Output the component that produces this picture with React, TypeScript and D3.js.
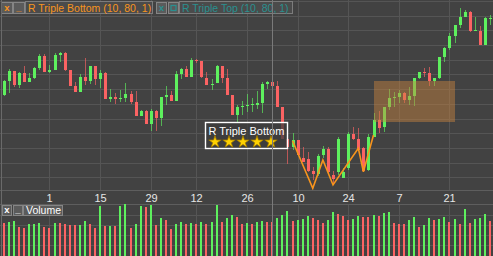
import React from "react";
import * as d3 from "d3";

const W = 493;
const H = 256;

const startDay = "2010-02-16";
const endDay = "2010-07-02";
const holidays = ["2010-04-02"];

const opens = [15.60,16.55,17.23,16.28,17.10,16.48,16.75,17.41,18.25,17.16,17.32,18.34,18.46,17.30,16.23,15.80,16.82,16.55,17.57,16.71,17.12,15.35,15.46,15.38,15.41,15.69,15.12,14.19,14.53,13.63,14.53,14.05,15.46,15.60,15.21,17.03,17.37,16.84,17.98,17.89,16.77,16.30,16.41,17.57,16.75,15.60,14.26,14.78,14.85,14.96,14.92,15.07,16.35,16.48,16.21,14.78,12.60,12.04,12.54,11.31,11.24,10.43,10.22,11.47,11.90,10.16,10.31,10.00,10.61,12.95,12.60,12.01,10.50,12.76,13.90,13.37,14.76,15.41,15.48,15.73,15.26,15.51,16.73,17.18,17.07,16.50,16.73,18.16,18.78,19.61,20.36,20.92,21.27,19.97,19.97,19.00,20.81];
const highs = [16.62,17.37,17.25,17.16,17.59,17.12,17.50,18.41,18.37,17.62,18.46,18.52,18.52,17.32,16.48,17.03,18.11,17.59,17.59,17.30,17.14,16.01,15.71,15.94,16.41,15.89,15.87,14.55,14.55,14.65,14.55,15.48,16.21,15.87,17.23,17.41,17.59,18.09,18.05,17.91,17.16,16.69,17.61,17.59,17.35,15.62,14.92,15.17,15.67,15.37,15.87,16.50,16.55,16.96,16.55,14.80,12.81,12.99,12.56,12.06,11.72,10.72,11.58,12.13,12.06,10.43,12.74,10.63,13.08,13.42,13.33,12.03,12.95,14.35,14.51,14.78,15.99,15.82,15.94,15.80,16.12,16.75,17.18,17.41,17.52,16.75,18.18,18.88,19.82,20.38,21.50,21.38,21.29,20.92,20.29,20.92,21.04];
const lows = [15.55,15.76,16.16,16.09,16.45,16.46,16.72,17.30,17.14,17.07,17.30,17.86,17.20,16.22,15.78,15.78,16.26,16.35,16.26,16.09,15.33,15.14,14.97,15.14,15.14,14.99,14.17,14.17,13.61,13.17,13.17,13.51,14.94,15.19,15.19,16.71,16.82,16.82,17.75,16.75,16.28,15.96,16.39,16.41,15.58,14.24,13.78,14.24,14.46,14.46,14.63,14.39,16.01,16.07,14.76,12.58,10.90,11.86,11.50,11.02,10.37,9.82,10.09,11.31,10.22,9.54,10.16,9.95,10.50,12.56,11.84,10.36,10.43,12.74,13.01,13.08,14.58,14.75,15.05,15.03,14.92,14.85,16.68,16.80,16.21,16.21,16.71,17.86,18.66,19.12,20.14,20.90,19.90,19.95,18.98,18.98,20.36];
const closes = [16.55,17.23,16.28,17.07,16.48,16.75,17.41,18.25,17.16,17.32,18.34,18.48,17.30,16.23,15.80,16.82,16.55,17.57,16.71,17.12,15.35,15.46,15.35,15.42,15.69,15.12,14.19,14.53,13.63,14.53,14.05,15.46,15.60,15.21,17.03,17.37,16.84,17.98,17.89,16.77,16.30,16.37,17.59,16.77,15.60,14.26,14.78,14.85,14.92,15.01,15.07,16.35,16.48,16.21,14.78,12.60,12.03,12.54,11.52,11.04,10.39,10.22,11.45,11.90,10.36,9.88,12.58,10.38,12.95,12.58,11.86,10.45,12.76,13.90,13.37,14.76,15.39,15.48,15.73,15.26,15.51,16.73,17.16,17.11,16.50,16.73,18.16,18.78,19.61,20.36,20.92,21.27,19.97,20.02,19.00,20.81,20.85];

const volumes = [666,686,706,586,560,640,640,660,586,566,660,660,640,620,614,626,700,646,566,1006,606,606,606,1006,1040,566,646,1006,986,1020,626,766,720,546,646,680,646,660,646,680,646,680,1020,680,760,826,786,640,654,640,674,694,674,680,760,820,900,700,720,740,800,760,720,654,720,880,840,800,720,740,800,780,780,820,806,860,880,660,640,640,720,780,580,620,760,720,740,780,680,740,640,940,660,740,760,840,700];
const volumeUp = [0,1,1,0,0,1,1,1,0,0,1,0,0,0,0,1,1,0,0,1,0,1,0,1,1,0,1,1,0,1,0,1,0,0,1,1,0,1,0,1,0,1,1,0,1,1,0,0,1,0,1,1,0,0,1,1,1,0,1,1,1,0,0,0,1,1,0,0,0,1,1,0,0,1,0,1,1,0,0,0,1,1,0,1,1,0,1,1,0,1,0,1,0,1,1,1,0];

const tickDates = ["2010-03-01","2010-03-15","2010-03-29","2010-04-12","2010-04-26","2010-05-10","2010-05-24","2010-06-07","2010-06-21"];
const cursorDate = "2010-05-03";
const priceGrid = [10,11,12,13,14,15,16,17,18,19,20,21,22];
const volumeGrid = [220,420,620,820];

const patternDates = ["2010-05-07","2010-05-13","2010-05-17","2010-05-19","2010-05-26","2010-05-27","2010-05-31"];
const patternPrices = [12.49, 9.25, 11.18, 9.48, 11.97, 10.38, 12.88];
const targetDates = ["2010-05-31", "2010-06-22"];
const targetPrices = [13.78, 16.55];
const labelDate = "2010-05-06";
const labelTopPrice = 13.78;
const patternName = "R Triple Bottom";
const rating = 5;
const headerTitles = ["R Triple Bottom (10, 80, 1)", "R Triple Top (10, 80, 1)"];
const volumeTitle = "Volume";

const BG = "#424242";
const GRID = "#555555";
const UP = "#5ef05e";
const DOWN = "#fb6363";
const ORANGE = "#f7941d";
const TEAL = "#2a9090";
const FONT = "'Liberation Sans', Arial, sans-serif";

const fmt = d3.timeFormat("%Y-%m-%d");
const parse = d3.timeParse("%Y-%m-%d");
const dates = d3.timeDay
  .range(parse(startDay)!, parse(endDay)!)
  .filter((d) => d.getDay() !== 0 && d.getDay() !== 6 && !holidays.includes(fmt(d)))
  .map(fmt);

export default function App() {
  const x = d3.scaleBand<string>().domain(dates).range([1.4, 492.5]).padding(0);
  const cx = (d: string) => Math.round((x(d) ?? 0) + x.bandwidth() / 2);
  const y = d3.scaleLinear().domain([10, 21]).range([177.3, 15.6]);
  const yv = d3.scaleLinear().domain([0, 1040]).range([256, 204]);
  const dayLabel = d3.timeFormat("%-d");

  const line = d3
    .line<number>()
    .x((i) => (x(patternDates[i]) ?? 0) + x.bandwidth() / 2)
    .y((i) => y(patternPrices[i]));

  const tbx0 = (x(targetDates[0]) ?? 0) + x.bandwidth() / 2;
  const tbx1 = (x(targetDates[1]) ?? 0) + x.bandwidth() / 2;
  const tby0 = y(targetPrices[1]);
  const tby1 = y(targetPrices[0]);

  const lbRight = (x(labelDate) ?? 0) + x.bandwidth() / 2;
  const lbTop = Math.round(y(labelTopPrice)) + 0.5;
  const lbW = 82;
  const lbH = 26;
  const lbLeft = Math.round(lbRight - lbW) + 0.5;

  const star = d3.symbol().type(d3.symbolStar).size(48)();

  const button = (bx: number, by: number, w: number, h: number, glyph: string, color: string, key: string) => (
    <g key={key}>
      <rect x={bx + 0.5} y={by + 0.5} width={w} height={h} fill="#5b5b5b" stroke="#858585" />
      {glyph === "sq" ? (
        <rect x={bx + w / 2 - 2} y={by + h / 2 - 2} width={5} height={5} fill="none" stroke={color} strokeWidth={1.2} />
      ) : (
        <text x={bx + w / 2 + 0.5} y={by + h - 2.5} fontSize={9.5} fontWeight="bold" fill={color} textAnchor="middle" fontFamily={FONT}>
          {glyph}
        </text>
      )}
    </g>
  );

  return (
    <svg width={W} height={H} style={{ position: "absolute", left: 0, top: 0, display: "block" }} fontFamily={FONT}>
      <rect x={0} y={0} width={W} height={H} fill={BG} />
      {priceGrid.map((p) => (
        <line key={"hg" + p} x1={0} x2={W} y1={Math.round(y(p)) + 0.5} y2={Math.round(y(p)) + 0.5} stroke={GRID} />
      ))}
      {tickDates.map((d) => (
        <line key={"vg" + d} x1={cx(d) + 0.5} x2={cx(d) + 0.5} y1={0} y2={190} stroke={GRID} />
      ))}
      {dates.map((d, i) => {
        const o = opens[i], c = closes[i];
        const up = c >= o;
        const col = up ? UP : DOWN;
        const xc = cx(d);
        const top = Math.round(Math.min(y(o), y(c)));
        const h = Math.max(1, Math.round(Math.abs(y(o) - y(c))));
        return (
          <g key={"c" + d}>
            <line x1={xc + 0.5} x2={xc + 0.5} y1={Math.round(y(highs[i]))} y2={Math.round(y(lows[i]))} stroke={col} strokeOpacity={0.65} />
            <rect x={xc - 1} y={top} width={3} height={h} fill={col} />
          </g>
        );
      })}
      <rect x={Math.round(tbx0)} y={Math.round(tby0)} width={Math.round(tbx1 - tbx0)} height={Math.round(tby1 - tby0)} fill="rgb(205,133,63)" fillOpacity={0.45} />
      <path d={line(patternDates.map((_, i) => i)) ?? ""} fill="none" stroke={ORANGE} strokeWidth={1.6} strokeLinejoin="miter" />
      <g>
        <rect x={lbLeft} y={lbTop} width={lbW} height={lbH} fill="#3c3c3c" fillOpacity={0.75} stroke="#ffffff" strokeWidth={1.4} />
        <text x={lbLeft + 3} y={lbTop + 12} fontSize={11} fill="#ffffff">
          {patternName}
        </text>
        {d3.range(rating).map((s) => (
          <path key={"st" + s} d={star ?? ""} transform={`translate(${lbLeft + 9.5 + s * 14},${lbTop + 19.5})`} fill="#ffd200" stroke="#9a7400" strokeWidth={0.8} />
        ))}
      </g>
      {button(1, 2, 11, 11, "x", ORANGE, "b1")}
      {button(13, 2, 11, 11, "_", ORANGE, "b2")}
      <rect x={25.5} y={1.5} width={127} height={12} fill="#4b4b4b" stroke="#7c7c7c" />
      <text x={28} y={11.5} fontSize={10.5} fill={ORANGE}>{headerTitles[0]}</text>
      {button(156, 2, 10, 11, "x", TEAL, "b3")}
      {button(168, 2, 10, 11, "sq", TEAL, "b4")}
      <rect x={179.5} y={1.5} width={113} height={12} fill="#4b4b4b" stroke="#7c7c7c" />
      <text x={182} y={11.5} fontSize={10.5} fill={TEAL}>{headerTitles[1]}</text>
      <line x1={0} x2={W} y1={190.5} y2={190.5} stroke="#5e5e5e" />
      {tickDates.map((d) => (
        <text key={"tl" + d} x={cx(d) + 0.5} y={202} fontSize={11} fill="#e6e6e6" textAnchor="middle">
          {dayLabel(parse(d)!)}
        </text>
      ))}
      <line x1={0} x2={W} y1={204.5} y2={204.5} stroke="#5e5e5e" />
      {volumeGrid.map((v) => (
        <line key={"vhg" + v} x1={0} x2={W} y1={Math.round(yv(v)) + 0.5} y2={Math.round(yv(v)) + 0.5} stroke={GRID} />
      ))}
      {tickDates.map((d) => (
        <line key={"vvg" + d} x1={cx(d) + 0.5} x2={cx(d) + 0.5} y1={205} y2={H} stroke={GRID} />
      ))}
      {dates.map((d, i) => {
        const top = Math.round(yv(volumes[i]));
        return <rect key={"v" + d} x={cx(d) - 1} y={top} width={2} height={H - top} fill={volumeUp[i] ? UP : DOWN} />;
      })}
      {button(2, 205, 9, 10, "x", "#ffffff", "vb1")}
      {button(13, 205, 9, 10, "_", "#ffffff", "vb2")}
      <rect x={23.5} y={205.5} width={39} height={10} fill="#5b5b5b" stroke="#858585" />
      <text x={26} y={214} fontSize={10.5} fill="#ffffff">{volumeTitle}</text>
      <line x1={1.5} x2={1.5} y1={0} y2={H} stroke="#6a6a6a" />
      <line x1={cx(cursorDate) + 0.5} x2={cx(cursorDate) + 0.5} y1={0} y2={H} stroke="#7a7a7a" />
    </svg>
  );
}
